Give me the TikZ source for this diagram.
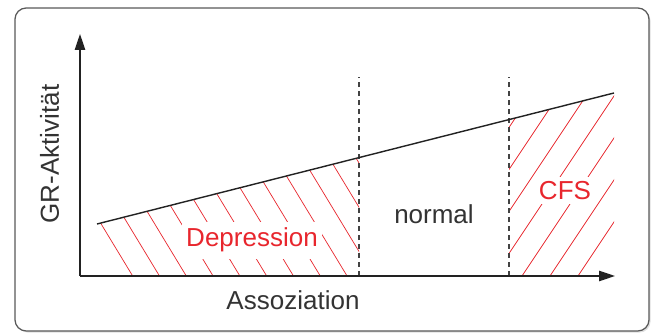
\documentclass[tikz,border=0pt]{standalone}
\usepackage{fontspec}
\setmainfont{Liberation Sans}
\usetikzlibrary{arrows.meta,shadows}
\definecolor{rosso}{HTML}{E8262D}
\definecolor{grigio}{HTML}{333333}
\definecolor{linea}{HTML}{222222}
\tikzset{
  testo/.style={font=\fontsize{18.5}{22}\selectfont, text=grigio, inner sep=0pt},
  tratteggio/.style={rosso, line width=0.5pt},
  asse/.style={linea, line width=1pt, -{Triangle[length=0.4cm,width=0.26cm]}},
  soglia/.style={linea!85, line width=0.9pt, dash pattern=on 3.6pt off 2.8pt},
}
\begin{document}
\begin{tikzpicture}
    \useasboundingbox (-2,-1.425) rectangle (14.325,6.9);
    % cornice
    \draw[linea!75, line width=0.9pt, rounded corners=0.28cm, fill=white,
          drop shadow={opacity=0.25, shadow xshift=0.04cm, shadow yshift=-0.04cm}]
        (-1.625,-1.375) rectangle (14.225,6.7);
    % punti
    \coordinate (O) at (0,0);
    \coordinate (ytip) at (0,6.05);
    \coordinate (xtip) at (13.375,0);
    \coordinate (A) at (0.425,1.3);
    \coordinate (B) at (13.35,4.575);
    \coordinate (S1) at (6.975,0);
    \coordinate (S1top) at (6.975,4.975);
    \coordinate (S2) at (10.725,0);
    \coordinate (S2top) at (10.725,4.975);
    % Depression
    \begin{scope}
        \clip (1.30,0) -- (0.50,1.319) -- (6.975,2.9597) -- (S1) -- cycle;
        \foreach \k in {0,...,11}
            \draw[tratteggio] ({1.317+0.67*\k+0.5},-0.825) -- ++(-3.2,5.28);
    \end{scope}
    % CFS
    \begin{scope}
        \clip (S2) -- (10.725,3.9098) -- (B) -- (13.35,0) -- cycle;
        \foreach \k in {-6,...,1}
            \draw[tratteggio] ({11.75+0.7*\k-0.5},-0.75) -- ++(4.5,6.75);
    \end{scope}
    % testi
    \node[testo, text=rosso, fill=white, inner xsep=3pt, inner ysep=4.5pt, anchor=base] (dep) at (4.3,0.73) {Depression};
    \node[testo, anchor=base] (norm) at (8.85,1.3) {normal};
    \node[testo, text=rosso, fill=white, inner sep=3pt, anchor=base] (cfs) at (12.125,1.92) {CFS};
    \node[testo, anchor=base] (xlab) at (5.325,-0.85) {Assoziation};
    \node[testo, rotate=90, anchor=base] (ylab) at (-0.525,3.05) {GR-Aktivität};
    % soglie
    \draw[soglia] (S1) -- (S1top);
    \draw[soglia] (S2) -- (S2top);
    % retta e assi
    \draw[linea, line width=1pt] (A) -- (B);
    \draw[asse] (O) -- (ytip);
    \draw[asse] (O) -- (xtip);
\end{tikzpicture}
\end{document}
